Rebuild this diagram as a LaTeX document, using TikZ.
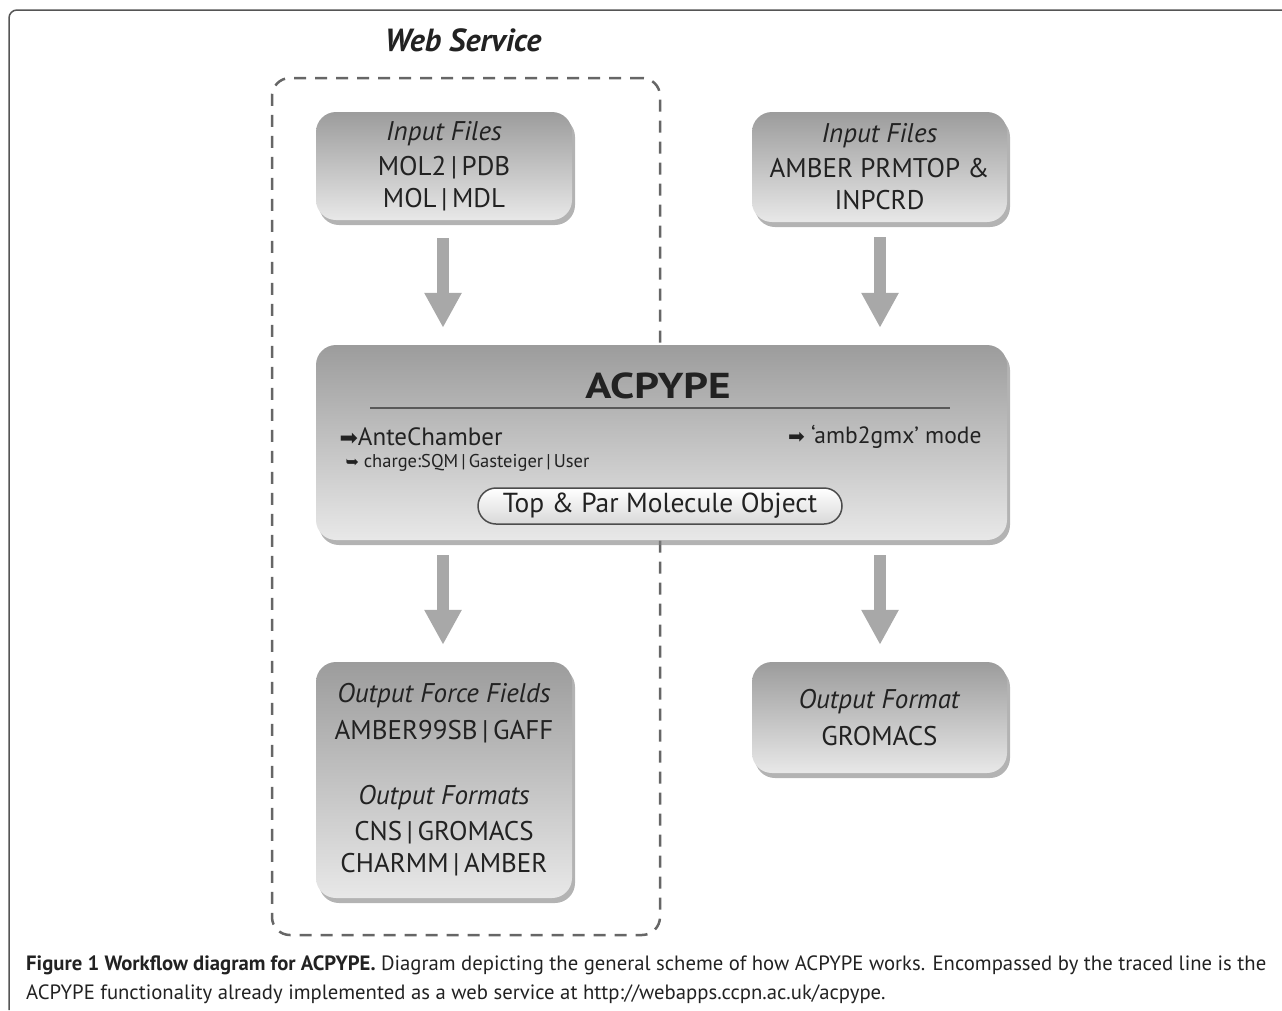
\documentclass[tikz,border=0pt]{standalone}
\usepackage{fontspec}
\setmainfont{PT Sans}
\newfontfamily\symf{DejaVu Sans}
\usetikzlibrary{shadows,arrows.meta,calc}
\definecolor{frameclr}{HTML}{555555}
\definecolor{dashclr}{HTML}{666666}
\definecolor{boxtop}{HTML}{9C9C9C}
\definecolor{boxbot}{HTML}{E8E8E8}
\definecolor{arrclr}{HTML}{A8A8A8}
\definecolor{txt}{HTML}{222222}
\newcommand{\vb}{\,|\,}
\tikzset{
  greybox/.style={rectangle, rounded corners=20pt, top color=boxtop, bottom color=boxbot,
    draw=none, inner sep=0pt, align=center, text=txt,
    drop shadow={shadow xshift=3pt, shadow yshift=-5pt, opacity=0.6}},
  flowarrow/.style={draw=arrclr, line width=12pt, -{Triangle[width=35pt,length=35pt]}},
  wsbox/.style={draw=dashclr, line width=2.5pt, dash pattern=on 12pt off 9pt, rounded corners=18pt,
    inner sep=0pt},
  pill/.style={rectangle, rounded corners=18pt, draw=black!70, line width=1.5pt,
    top color=white, bottom color=black!15, inner sep=0pt, text=txt},
  bodytxt/.style={font=\fontsize{27}{32}\selectfont},
}
\begin{document}
\begin{tikzpicture}[x=1pt,y=-1pt]
\useasboundingbox (0,0) rectangle (1282,1010);
% frame
\draw[frameclr, line width=1.5pt, rounded corners=8pt] (1282,10) -- (9,10) -- (9,1010);
% web service area
\node[wsbox, minimum width=388pt, minimum height=857pt] (ws) at (466,506.5) {};
\node[font=\fontsize{32}{36}\selectfont\bfseries\itshape, text=txt] (wstitle) at (463,40) {Web Service};
% boxes
\node[greybox, bodytxt, minimum width=256pt, minimum height=108pt] (in1) at (444,166)
  {\textit{Input Files}\\[3pt] MOL2\vb PDB\\ MOL\vb MDL};
\node[greybox, bodytxt, minimum width=255pt, minimum height=110pt] (in2) at (879.5,167)
  {\textit{Input Files}\\[3pt] AMBER PRMTOP \&\\ INPCRD};
\node[greybox, minimum width=691pt, minimum height=195pt] (acp) at (661.5,442.5) {};
\node[greybox, bodytxt, minimum width=256pt, minimum height=236pt] (out1) at (444,780)
  {\textit{Output Force Fields}\\[5pt] AMBER99SB\vb GAFF\\[33pt] \textit{Output Formats}\\[4pt] CNS\vb GROMACS\\ CHARMM\vb AMBER};
\node[greybox, bodytxt, minimum width=255pt, minimum height=111pt] (out2) at (879.5,717.5)
  {\textit{Output Format}\\[5pt] GROMACS};
% ACPYPE contents
\node[font=\fontsize{36}{40}\selectfont\bfseries, text=txt] (acptitle) at (658,386) {\scalebox{1.2}[1]{ACPYPE}};
\draw[black!65, line width=2pt] (370,408) -- (950,408);
\node[anchor=west, font=\fontsize{25}{28}\selectfont, text=txt] (ante) at (336,437) {{\symf\fontsize{22}{24}\selectfont ➡}AnteChamber};
\node[anchor=west, font=\fontsize{18.5}{20}\selectfont, text=txt] (charge) at (342,463) {{\symf\fontsize{16}{18}\selectfont ➥} charge:SQM\vb Gasteiger\vb User};
\node[anchor=east, font=\fontsize{23.5}{26}\selectfont, text=txt] (amb) at (985,437) {{\symf\fontsize{20}{22}\selectfont ➡} ‘amb2gmx’ mode};
\node[pill, minimum width=364pt, minimum height=36pt, font=\fontsize{27.5}{30}\selectfont] (obj) at (660,506) {Top \& Par Molecule Object};
% arrows
\draw[flowarrow] ($(in1.south)+(-1,18)$) -- ($(in1.south |- acp.north)+(-1,-17)$);
\draw[flowarrow] ($(in2.south)+(0.5,15)$) -- ($(in2.south |- acp.north)+(0.5,-17)$);
\draw[flowarrow] ($(out1.north |- acp.south)+(-1,15)$) -- ($(out1.north)+(-1,-17)$);
\draw[flowarrow] ($(out2.north |- acp.south)+(0.5,15)$) -- ($(out2.north)+(0.5,-17)$);
% caption
\node[anchor=base west, inner sep=0pt, font=\fontsize{20.7}{24}\selectfont, text=txt] (cap1) at (26,970)
  {\textbf{Figure 1 Workflow diagram for ACPYPE.} Diagram depicting the general scheme of how ACPYPE works. Encompassed by the traced line is the};
\node[anchor=base west, inner sep=0pt, font=\fontsize{20.7}{24}\selectfont, text=txt] (cap2) at (26,999)
  {ACPYPE functionality already implemented as a web service at http://webapps.ccpn.ac.uk/acpype.};
\end{tikzpicture}
\end{document}
